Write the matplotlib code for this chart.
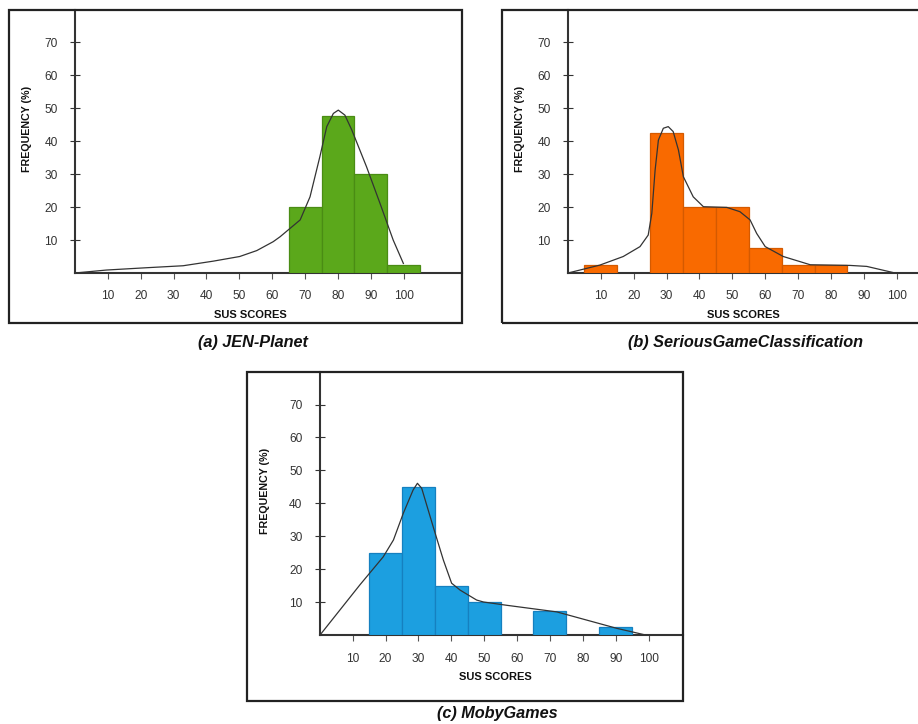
import matplotlib
matplotlib.use("Agg")
import matplotlib.pyplot as plt
from matplotlib.patches import Rectangle

plt.rcParams['font.family'] = ['Liberation Sans', 'DejaVu Sans']

# ---- data ----
ticks_x = [10, 20, 30, 40, 50, 60, 70, 80, 90, 100]
ticks_y = [10, 20, 30, 40, 50, 60, 70]

# (a) JEN-Planet
jen_bins = [70, 80, 90, 100]
jen_freq = [20, 47.5, 30, 2.5]
jen_curve_x = [0, 9.6, 21.8, 32.9, 42.1, 50.1, 55.3, 60.3, 62.4, 68.5, 71.5, 74.5, 76.6, 78.6,
               80.1, 82.1, 84.2, 88.7, 92.8, 96.8, 99.9]
jen_curve_y = [0, 0.9, 1.6, 2.2, 3.6, 5, 6.8, 9.5, 11, 16.1, 23.1, 35.3, 44.4, 48.4,
               49.4, 47.9, 43.4, 32.2, 21.1, 10, 2.9]

# (b) SeriousGameClassification
sgc_bins = [10, 30, 40, 50, 60, 70, 80]
sgc_freq = [2.5, 42.5, 20, 20, 7.5, 2.5, 2.5]
sgc_curve_x = [0, 9.7, 16.8, 21.9, 24.4, 25.5, 26.5, 27.5, 29, 30.5, 32, 33.6, 35.1, 38.1,
               41.2, 48.3, 52.3, 55.4, 57.4, 60, 65.5, 73.7, 85.8, 90.9, 99.5]
sgc_curve_y = [0, 2.4, 5, 8, 11.5, 18.1, 31.2, 40.3, 43.9, 44.4, 42.9, 37.3, 29.2, 23.1,
               20.1, 19.9, 18.6, 16.1, 12, 8, 5, 2.5, 2.3, 2, 0]

# (c) MobyGames
moby_bins = [20, 30, 40, 50, 70, 90]
moby_freq = [25, 45, 15, 10, 7.5, 2.5]
moby_curve_x = [0, 12.2, 19.3, 22.4, 25.4, 28.4, 29.7, 31, 34.5, 37.6, 40.1, 42.7, 47.7,
                49.8, 56.9, 72.1, 90.4, 99.5]
moby_curve_y = [0, 15.3, 23.8, 28.9, 37, 44.1, 46.1, 44.6, 32.9, 22.8, 15.8, 13.7, 10.7,
                10.1, 9.1, 7.1, 2.1, 0]

W, H = 918, 724
PX_PER_UNIT_X = 3.287
PX_PER_UNIT_Y = 3.297
AX_COLOR = '#333333'


def fx(px):
    return px / W


def fy(py):
    return 1 - py / H


def draw_panel(fig, box, origin, right, bins, freq, cx, cy, color, edge, caption, cap_y):
    # outer frame
    bx0, by0, bx1, by1 = box
    fig.patches.append(Rectangle((fx(bx0), fy(by1)), fx(bx1 - bx0), (by1 - by0) / H,
                                 transform=fig.transFigure, fill=False,
                                 edgecolor='#222222', linewidth=1.6))
    ox, oy = origin
    top = by0
    ax = fig.add_axes([fx(ox), fy(oy), fx(right - ox), (oy - top) / H])
    ax.set_xlim(0, (right - ox) / PX_PER_UNIT_X)
    ax.set_ylim(0, (oy - top) / PX_PER_UNIT_Y)
    ax.patch.set_alpha(0)

    ax.bar(bins, freq, width=10, color=color, edgecolor=edge, linewidth=0.9, zorder=3)
    ax.plot(cx, cy, color='#333333', linewidth=0.9, zorder=4)

    for s in ['top', 'right']:
        ax.spines[s].set_visible(False)
    for s in ['left', 'bottom']:
        ax.spines[s].set_color(AX_COLOR)
        ax.spines[s].set_linewidth(1.5)

    ax.set_xticks(ticks_x)
    ax.set_yticks(ticks_y)
    ax.tick_params(axis='x', direction='out', length=4.5, width=0.8, color='#555555',
                   pad=8, labelsize=8.6, labelcolor='#333333')
    ax.tick_params(axis='y', direction='inout', length=7, width=0.8, color=AX_COLOR,
                   pad=9, labelsize=8.6, labelcolor='#333333')

    fig.text(fx(bx0 + 18), fy(oy - 144), 'FREQUENCY (%)', rotation=90, ha='center',
             va='center', fontsize=7.7, fontweight='bold', color='#111111')
    fig.text(fx(ox + 175.5), fy(oy + 42), 'SUS SCORES', ha='center', va='center',
             fontsize=8, fontweight='bold', color='#111111')
    fig.text(fx(ox + 178), fy(cap_y), caption, ha='center', va='center',
             fontsize=11.7, fontweight='bold', fontstyle='italic', color='#111111')
    return ax


fig = plt.figure(figsize=(W / 100, H / 100), dpi=100)

draw_panel(fig, (9, 10, 462, 323), (75, 273), 462, jen_bins, jen_freq,
           jen_curve_x, jen_curve_y, '#5ba81b', '#4a8c14', '(a) JEN-Planet', 343)
draw_panel(fig, (501.7, 10, 935, 323), (568, 273), 935, sgc_bins, sgc_freq,
           sgc_curve_x, sgc_curve_y, '#f96a00', '#d45a00', '(b) SeriousGameClassification', 343)
draw_panel(fig, (246.7, 372.3, 682.7, 701), (319.8, 635.3), 682.7, moby_bins, moby_freq,
           moby_curve_x, moby_curve_y, '#1c9fe0', '#1580c0', '(c) MobyGames', 713.3)

fig.savefig('out.png', dpi=100)
